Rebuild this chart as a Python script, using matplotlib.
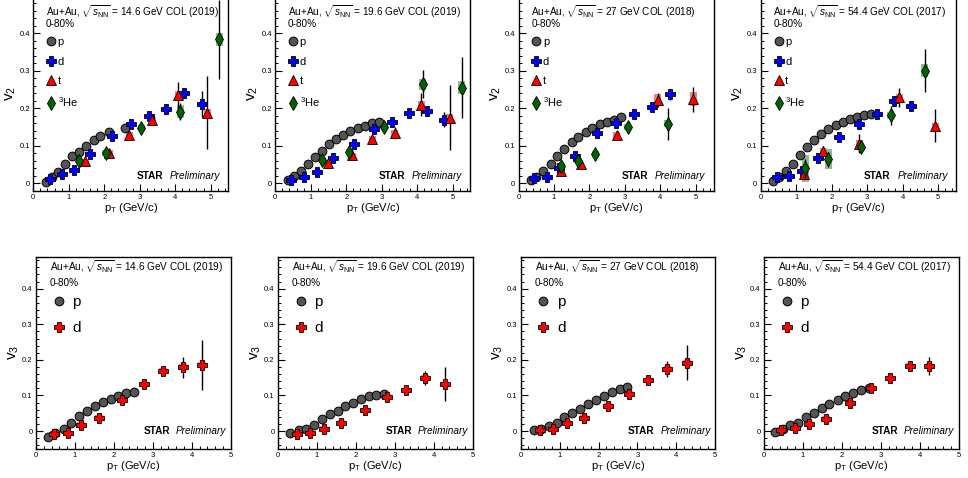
import numpy as np
import matplotlib
matplotlib.use("Agg")
import matplotlib.pyplot as plt
from matplotlib.ticker import FixedLocator, AutoMinorLocator, FormatStrFormatter

plt.rcParams['font.family'] = ['Liberation Sans', 'DejaVu Sans']
plt.rcParams['mathtext.fontset'] = 'custom'
plt.rcParams['mathtext.rm'] = 'Liberation Sans'
plt.rcParams['mathtext.it'] = 'Liberation Sans:italic'
plt.rcParams['mathtext.bf'] = 'Liberation Sans:bold'

# ---------------- v2 data (top row) ----------------
energies = ["14.6", "19.6", "27", "54.4"]
years = ["2019", "2019", "2018", "2017"]

# 14.6 GeV
v2_146_p_x = [0.36, 0.52, 0.69, 0.89, 1.09, 1.29, 1.49, 1.70, 1.89, 2.14, 2.58]
v2_146_p_y = [0.004, 0.018, 0.031, 0.051, 0.072, 0.085, 0.101, 0.115, 0.126, 0.138, 0.147]
v2_146_d_x = [0.47, 0.80, 1.15, 1.60, 2.21, 2.75, 3.26, 3.74, 4.26, 4.75]
v2_146_d_y = [0.013, 0.025, 0.035, 0.078, 0.126, 0.158, 0.179, 0.199, 0.241, 0.212]
v2_146_d_e = [0.003, 0.003, 0.004, 0.005, 0.006, 0.007, 0.009, 0.010, 0.014, 0.034]
v2_146_t_x = [1.46, 2.14, 2.71, 3.36, 4.09, 4.90]
v2_146_t_y = [0.059, 0.082, 0.129, 0.168, 0.235, 0.188]
v2_146_t_e = [0.005, 0.007, 0.008, 0.012, 0.036, 0.097]
v2_146_t_s = [0.006, 0.006, 0.008, 0.008, 0.010, 0.010]
v2_146_h_x = [1.30, 2.05, 3.05, 4.14, 5.24]
v2_146_h_y = [0.059, 0.082, 0.148, 0.191, 0.383]
v2_146_h_e = [0.006, 0.008, 0.010, 0.022, 0.105]
v2_146_h_s = [0.006, 0.008, 0.008, 0.018, 0.017]

# 19.6 GeV
v2_196_p_x = [0.35, 0.52, 0.72, 0.91, 1.11, 1.32, 1.52, 1.72, 1.92, 2.12, 2.32, 2.52, 2.73, 2.92]
v2_196_p_y = [0.009, 0.020, 0.032, 0.051, 0.071, 0.087, 0.104, 0.117, 0.129, 0.139, 0.148, 0.154, 0.160, 0.164]
v2_196_d_x = [0.45, 0.81, 1.17, 1.62, 2.22, 2.77, 3.28, 3.76, 4.27, 4.75]
v2_196_d_y = [0.009, 0.018, 0.030, 0.068, 0.105, 0.144, 0.163, 0.187, 0.192, 0.170]
v2_196_d_e = [0.003, 0.003, 0.004, 0.005, 0.006, 0.008, 0.009, 0.010, 0.012, 0.020]
v2_196_t_x = [1.48, 2.17, 2.73, 3.37, 4.12, 4.92]
v2_196_t_y = [0.054, 0.075, 0.117, 0.135, 0.210, 0.175]
v2_196_t_e = [0.005, 0.007, 0.009, 0.015, 0.030, 0.087]
v2_196_t_s = [0.006, 0.006, 0.008, 0.008, 0.010, 0.010]
v2_196_h_x = [1.32, 2.08, 3.07, 4.16, 5.26]
v2_196_h_y = [0.062, 0.084, 0.149, 0.264, 0.255]
v2_196_h_e = [0.006, 0.010, 0.012, 0.037, 0.082]
v2_196_h_s = [0.006, 0.008, 0.008, 0.015, 0.018]

# 27 GeV
v2_27_p_x = [0.34, 0.50, 0.70, 0.91, 1.09, 1.29, 1.50, 1.69, 1.91, 2.08, 2.29, 2.49, 2.70, 2.90]
v2_27_p_y = [0.008, 0.018, 0.033, 0.053, 0.074, 0.093, 0.110, 0.124, 0.137, 0.147, 0.157, 0.164, 0.170, 0.177]
v2_27_d_x = [0.45, 0.79, 1.15, 1.59, 2.22, 2.76, 3.27, 3.76, 4.27]
v2_27_d_y = [0.015, 0.018, 0.040, 0.074, 0.133, 0.161, 0.184, 0.204, 0.237]
v2_27_d_e = [0.003, 0.003, 0.004, 0.005, 0.006, 0.008, 0.009, 0.010, 0.014]
v2_27_t_x = [1.21, 1.75, 2.77, 3.92, 4.93]
v2_27_t_y = [0.033, 0.051, 0.130, 0.222, 0.224]
v2_27_t_e = [0.006, 0.008, 0.010, 0.018, 0.033]
v2_27_t_s = [0.005, 0.006, 0.008, 0.015, 0.018]
v2_27_h_x = [1.21, 1.68, 2.16, 3.08, 4.21]
v2_27_h_y = [0.047, 0.059, 0.078, 0.151, 0.159]
v2_27_h_e = [0.010, 0.012, 0.015, 0.016, 0.043]
v2_27_h_s = [0.008, 0.008, 0.008, 0.008, 0.010]

# 54.4 GeV
v2_544_p_x = [0.36, 0.53, 0.71, 0.91, 1.11, 1.31, 1.51, 1.70, 1.91, 2.11, 2.31, 2.51, 2.72, 2.91, 3.11]
v2_544_p_y = [0.006, 0.018, 0.032, 0.053, 0.075, 0.097, 0.115, 0.131, 0.144, 0.155, 0.163, 0.172, 0.177, 0.182, 0.186]
v2_544_d_x = [0.47, 0.81, 1.17, 1.62, 2.22, 2.76, 3.28, 3.76, 4.25]
v2_544_d_y = [0.018, 0.021, 0.034, 0.067, 0.123, 0.157, 0.184, 0.220, 0.206]
v2_544_d_e = [0.003, 0.003, 0.005, 0.006, 0.008, 0.008, 0.009, 0.011, 0.013]
v2_544_t_x = [1.21, 1.77, 2.78, 3.91, 4.92]
v2_544_t_y = [0.025, 0.086, 0.106, 0.229, 0.154]
v2_544_t_e = [0.010, 0.014, 0.025, 0.026, 0.044]
v2_544_t_s = [0.010, 0.008, 0.010, 0.010, 0.008]
v2_544_h_x = [1.26, 1.91, 2.82, 3.66, 4.62]
v2_544_h_y = [0.040, 0.065, 0.098, 0.181, 0.300]
v2_544_h_e = [0.025, 0.020, 0.017, 0.025, 0.057]
v2_544_h_s = [0.035, 0.027, 0.010, 0.010, 0.018]

# ---------------- v3 data (bottom row) ----------------
v3_146_p_x = [0.32, 0.50, 0.71, 0.91, 1.11, 1.32, 1.52, 1.71, 1.92, 2.11, 2.31, 2.53]
v3_146_p_y = [-0.017, -0.006, 0.007, 0.022, 0.043, 0.057, 0.070, 0.082, 0.091, 0.099, 0.106, 0.109]
v3_146_d_x = [0.47, 0.81, 1.16, 1.61, 2.22, 2.77, 3.27, 3.77, 4.27]
v3_146_d_y = [-0.009, -0.005, 0.017, 0.036, 0.086, 0.131, 0.169, 0.179, 0.185]
v3_146_d_e = [0.004, 0.005, 0.005, 0.006, 0.008, 0.008, 0.010, 0.029, 0.070]

v3_196_p_x = [0.32, 0.53, 0.73, 0.92, 1.13, 1.34, 1.53, 1.73, 1.93, 2.13, 2.33, 2.53, 2.73]
v3_196_p_y = [-0.006, 0.002, 0.007, 0.018, 0.033, 0.047, 0.055, 0.070, 0.080, 0.089, 0.099, 0.101, 0.103]
v3_196_d_x = [0.49, 0.83, 1.17, 1.63, 2.23, 2.79, 3.28, 3.78, 4.28]
v3_196_d_y = [-0.007, -0.005, 0.007, 0.023, 0.058, 0.096, 0.114, 0.150, 0.131]
v3_196_d_e = [0.004, 0.005, 0.005, 0.006, 0.007, 0.008, 0.010, 0.020, 0.048]

v3_27_p_x = [0.34, 0.53, 0.72, 0.93, 1.12, 1.33, 1.53, 1.74, 1.94, 2.14, 2.34, 2.55, 2.74]
v3_27_p_y = [0.003, 0.007, 0.015, 0.023, 0.038, 0.051, 0.063, 0.076, 0.088, 0.099, 0.109, 0.117, 0.123]
v3_27_d_x = [0.50, 0.84, 1.20, 1.63, 2.24, 2.79, 3.27, 3.77, 4.28]
v3_27_d_y = [0.002, 0.007, 0.023, 0.037, 0.071, 0.105, 0.142, 0.175, 0.192]
v3_27_d_e = [0.012, 0.008, 0.006, 0.006, 0.007, 0.008, 0.010, 0.022, 0.050]

v3_544_p_x = [0.28, 0.48, 0.68, 0.88, 1.08, 1.28, 1.49, 1.68, 1.89, 2.09, 2.29, 2.49, 2.69]
v3_544_p_y = [-0.004, 0.005, 0.016, 0.022, 0.038, 0.051, 0.065, 0.077, 0.088, 0.098, 0.108, 0.116, 0.122]
v3_544_d_x = [0.44, 0.79, 1.15, 1.60, 2.20, 2.74, 3.24, 3.74, 4.25]
v3_544_d_y = [0.002, 0.008, 0.021, 0.034, 0.079, 0.120, 0.148, 0.182, 0.182]
v3_544_d_e = [0.004, 0.005, 0.005, 0.006, 0.007, 0.008, 0.008, 0.012, 0.025]
v3_d_syst = 0.008

top_rows = [
    (v2_146_p_x, v2_146_p_y, v2_146_d_x, v2_146_d_y, v2_146_d_e, v2_146_t_x, v2_146_t_y, v2_146_t_e, v2_146_t_s,
     v2_146_h_x, v2_146_h_y, v2_146_h_e, v2_146_h_s),
    (v2_196_p_x, v2_196_p_y, v2_196_d_x, v2_196_d_y, v2_196_d_e, v2_196_t_x, v2_196_t_y, v2_196_t_e, v2_196_t_s,
     v2_196_h_x, v2_196_h_y, v2_196_h_e, v2_196_h_s),
    (v2_27_p_x, v2_27_p_y, v2_27_d_x, v2_27_d_y, v2_27_d_e, v2_27_t_x, v2_27_t_y, v2_27_t_e, v2_27_t_s,
     v2_27_h_x, v2_27_h_y, v2_27_h_e, v2_27_h_s),
    (v2_544_p_x, v2_544_p_y, v2_544_d_x, v2_544_d_y, v2_544_d_e, v2_544_t_x, v2_544_t_y, v2_544_t_e, v2_544_t_s,
     v2_544_h_x, v2_544_h_y, v2_544_h_e, v2_544_h_s),
]
bottom_rows = [
    (v3_146_p_x, v3_146_p_y, v3_146_d_x, v3_146_d_y, v3_146_d_e),
    (v3_196_p_x, v3_196_p_y, v3_196_d_x, v3_196_d_y, v3_196_d_e),
    (v3_27_p_x, v3_27_p_y, v3_27_d_x, v3_27_d_y, v3_27_d_e),
    (v3_544_p_x, v3_544_p_y, v3_544_d_x, v3_544_d_y, v3_544_d_e),
]

W, H = 968, 478
fig = plt.figure(figsize=(W / 100, H / 100), dpi=100)

top_left_px = [33.3, 275.3, 518.5, 760.7]
bot_left_px = [36.0, 278.0, 520.7, 764.0]

P_STYLE = dict(marker='o', ms=6.3, mfc='#555555', mec='black', mew=0.7, ls='none')
D_STYLE = dict(marker='P', ms=7.2, mfc='#0000ff', mec='black', mew=0.6, ls='none')
T_STYLE = dict(marker='^', ms=6.8, mfc='#ff0000', mec='black', mew=0.6, ls='none')
H_STYLE = dict(marker='d', ms=7.2, mfc='#006400', mec='black', mew=0.6, ls='none')
D3_STYLE = dict(marker='P', ms=7.2, mfc='#ff0000', mec='black', mew=0.6, ls='none')


def style_axes(ax, ylab, xmax, ymin, ymax):
    ax.set_xlim(0, xmax)
    ax.set_ylim(ymin, ymax)
    ax.xaxis.set_major_locator(FixedLocator([0, 1, 2, 3, 4, 5]))
    ax.yaxis.set_major_locator(FixedLocator([0, 0.1, 0.2, 0.3, 0.4]))
    ax.xaxis.set_minor_locator(AutoMinorLocator(5))
    ax.yaxis.set_minor_locator(AutoMinorLocator(5))
    ax.xaxis.set_major_formatter(FormatStrFormatter('%g'))
    ax.yaxis.set_major_formatter(FormatStrFormatter('%g'))
    ax.tick_params(which='major', direction='in', length=5, width=0.8, labelsize=5.5, pad=2.5)
    ax.tick_params(which='minor', direction='in', length=2.5, width=0.7)
    for s in ax.spines.values():
        s.set_linewidth(1.0)
    ax.set_xlabel(r'p$_{\rm T}$ (GeV/c)', fontsize=8, labelpad=0)
    ax.set_ylabel(ylab, fontsize=11, labelpad=1)


def errs(ax, x, y, e, style, zorder):
    ax.errorbar(x, y, yerr=e, fmt='none', ecolor='black', elinewidth=1.0, capsize=0, zorder=zorder - 1)
    h, = ax.plot(x, y, zorder=zorder, **style)
    return h


def star_label(ax, x0, x1, y, fs):
    ax.text(x0, y, 'STAR', transform=ax.transAxes, fontsize=fs, fontweight='bold', va='center', ha='left')
    ax.text(x1, y, 'Preliminary', transform=ax.transAxes, fontsize=fs, style='italic', va='center', ha='left')


for i in range(4):
    (px, py, dx, dy, de, tx, ty, te, ts, hx, hy, he, hs) = top_rows[i]
    left = top_left_px[i]
    width = 5.5 * 35.47
    bottom = 191.0
    height = 0.52 * 376.0
    ax = fig.add_axes([left / W, (H - bottom) / H, width / W, height / H])
    style_axes(ax, r'v$_{2}$', 5.5, -0.02, 0.5)

    # systematic boxes
    ax.bar(tx, 2 * np.array(ts), bottom=np.array(ty) - np.array(ts), width=0.2, color='#f08080', zorder=2)
    ax.bar(hx, 2 * np.array(hs), bottom=np.array(hy) - np.array(hs), width=0.2, color='#8fbc8f', zorder=2)

    hp, = ax.plot(px, py, zorder=6, **P_STYLE)
    hd = errs(ax, dx, dy, de, D_STYLE, 7)
    ht = errs(ax, tx, ty, te, T_STYLE, 8)
    hh = errs(ax, hx, hy, he, H_STYLE, 9)

    ax.legend([hp, hd, ht, hh], ['p', 'd', 't', r'$^{3}$He'], loc='upper left',
              bbox_to_anchor=(0.04, 0.81), frameon=False, fontsize=8, handletextpad=0.1,
              labelspacing=0.85, borderaxespad=0, handlelength=1.0, numpoints=1)

    ax.text(0.065, 0.92, r'Au+Au, $\sqrt{s_{\rm NN}}$ = %s GeV COL (%s)' % (energies[i], years[i]),
            transform=ax.transAxes, fontsize=7.2, va='center', ha='left')
    ax.text(0.065, 0.855, '0-80%', transform=ax.transAxes, fontsize=7.2, va='center', ha='left')
    star_label(ax, 0.53, 0.70, 0.077, 7.2)

for i in range(4):
    (px, py, dx, dy, de) = bottom_rows[i]
    left = bot_left_px[i]
    width = 5.0 * 38.93
    bottom = 448.8
    height = 0.54 * 355.8
    ax = fig.add_axes([left / W, (H - bottom) / H, width / W, height / H])
    style_axes(ax, r'v$_{3}$', 5.0, -0.05, 0.49)

    ax.bar(dx, 2 * v3_d_syst, bottom=np.array(dy) - v3_d_syst, width=0.2, color='#f08080', zorder=2)
    hp, = ax.plot(px, py, zorder=6, **P_STYLE)
    hd = errs(ax, dx, dy, de, D3_STYLE, 7)

    ax.legend([hp, hd], ['p', 'd'], loc='upper left', bbox_to_anchor=(0.03, 0.83), frameon=False,
              fontsize=11, handletextpad=0.2, labelspacing=0.75, borderaxespad=0, handlelength=1.4,
              numpoints=1)

    ax.text(0.072, 0.948, r'Au+Au, $\sqrt{s_{\rm NN}}$ = %s GeV COL (%s)' % (energies[i], years[i]),
            transform=ax.transAxes, fontsize=7.2, va='center', ha='left')
    ax.text(0.072, 0.863, '0-80%', transform=ax.transAxes, fontsize=7.2, va='center', ha='left')
    star_label(ax, 0.551, 0.72, 0.093, 7.2)

fig.savefig('out.png', dpi=100)
